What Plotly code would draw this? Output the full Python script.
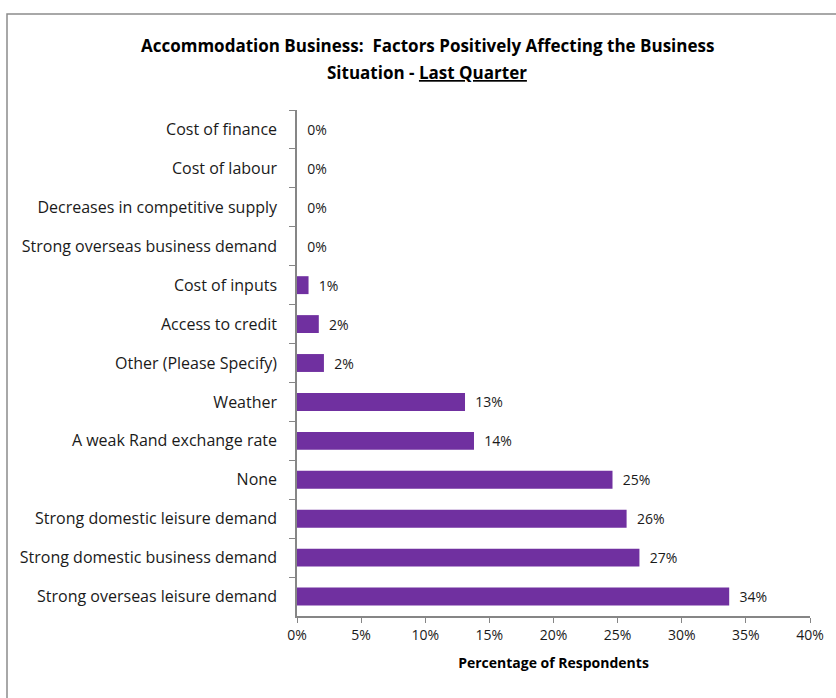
import plotly.graph_objects as go

# Data (percent of respondents), top to bottom as shown
factors = [
    "Cost of finance",
    "Cost of labour",
    "Decreases in competitive supply",
    "Strong overseas business demand",
    "Cost of inputs",
    "Access to credit",
    "Other (Please Specify)",
    "Weather",
    "A weak Rand exchange rate",
    "None",
    "Strong domestic leisure demand",
    "Strong domestic business demand",
    "Strong overseas leisure demand",
]
pct = [0, 0, 0, 0, 0.9, 1.7, 2.1, 13.1, 13.8, 24.6, 25.7, 26.7, 33.7]

x_ticks = [0, 5, 10, 15, 20, 25, 30, 35, 40]

title_lines = [
    "<b>Accommodation Business:  Factors Positively Affecting the Business</b>",
    "<b>Situation - <u>Last Quarter</u></b>",
]

font_family = "Open Sans, sans-serif"
axis_grey = "#868686"

# plot area in pixels
L, R, T, B = 297, 810, 110, 616
pw, ph = R - L, B - T

fig = go.Figure()

fig.add_trace(go.Bar(
    y=factors,
    x=pct,
    orientation="h",
    marker=dict(color="#7030A0", line=dict(width=0)),
    text=[f"  {v:.0f}%" for v in pct],
    textposition="outside",
    constraintext="none",
    textfont=dict(size=14, color="#1a1a1a", family=font_family),
    cliponaxis=False,
    hoverinfo="x+y",
))

# Outer chart border (runs off the right and bottom edges)
fig.add_shape(
    type="rect", xref="paper", yref="paper",
    x0=(7 - L) / pw, x1=(850 - L) / pw,
    y0=(B - 710) / ph, y1=(B - 14) / ph,
    line=dict(color="#8c8c8c", width=1.5),
    layer="below",
)

# Title, two lines placed separately to match the spacing
for line, ypix in zip(title_lines, [45, 73]):
    fig.add_annotation(
        text=line, xref="paper", yref="paper",
        x=(427 - L) / pw, y=(B - ypix) / ph,
        xanchor="center", yanchor="middle",
        showarrow=False,
        font=dict(size=17, family=font_family, color="#000000"),
    )

fig.update_layout(
    width=836,
    height=698,
    margin=dict(l=L, r=836 - R, t=T, b=698 - B, autoexpand=False),
    paper_bgcolor="white",
    plot_bgcolor="white",
    bargap=0.54,
    showlegend=False,
    font=dict(family=font_family, color="#1a1a1a"),
    xaxis=dict(
        range=[0, 40],
        tickvals=x_ticks,
        ticktext=[f"{t}%" for t in x_ticks],
        automargin=False,
        showgrid=False,
        zeroline=False,
        showline=True,
        linecolor=axis_grey,
        linewidth=1.5,
        ticks="outside",
        ticklen=5,
        tickcolor=axis_grey,
        tickfont=dict(size=14, family=font_family, color="#1a1a1a"),
        title=dict(
            text="<b>Percentage of Respondents</b>",
            font=dict(size=14, family=font_family, color="#000000"),
            standoff=16,
        ),
    ),
    yaxis=dict(
        autorange="reversed",
        automargin=False,
        showgrid=False,
        zeroline=False,
        showline=True,
        linecolor=axis_grey,
        linewidth=1.5,
        ticks="outside",
        tickson="boundaries",
        ticklen=6,
        tickcolor=axis_grey,
        tickfont=dict(size=16, family=font_family, color="#1a1a1a"),
        ticklabelstandoff=15,
    ),
)

# drop the default page margin so the figure sits at the window's corner
fig.write_html(
    "out.html",
    config={"displayModeBar": False},
    post_script="document.body.style.margin='0';",
)
